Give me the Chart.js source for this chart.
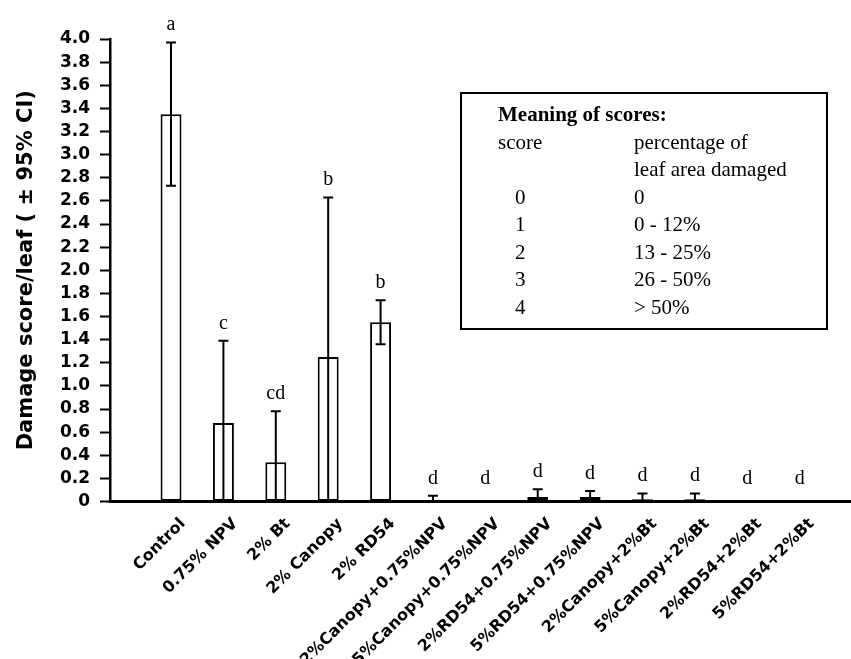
<!DOCTYPE html>
<html>
<head>
<meta charset="utf-8">
<script src="https://cdn.jsdelivr.net/npm/chart.js@4.4.1/dist/chart.umd.min.js"></script>
<style>
  html, body { margin: 0; padding: 0; background: #fff; }
  canvas { display: block; }
</style>
</head>
<body>
<canvas id="damage" width="851" height="659"></canvas>
<script>
// Treatments applied to the leaves
const categories = [
  'Control', '0.75% NPV', '2% Bt', '2% Canopy', '2% RD54',
  '2%Canopy+0.75%NPV', '5%Canopy+0.75%NPV', '2%RD54+0.75%NPV', '5%RD54+0.75%NPV',
  '2%Canopy+2%Bt', '5%Canopy+2%Bt', '2%RD54+2%Bt', '5%RD54+2%Bt'
];

// Mean damage score per leaf and the half-width of its 95% confidence interval
const meanScore = [3.35, 0.68, 0.34, 1.25, 1.55, 0.01, 0, 0.04, 0.04, 0.02, 0.02, 0, 0];
const ci95      = [0.62, 0.71, 0.44, 1.38, 0.19, 0.04, 0, 0.065, 0.05, 0.05, 0.05, 0, 0];

// Significance groups printed above each treatment
const groupLetters = ['a', 'c', 'cd', 'b', 'b', 'd', 'd', 'd', 'd', 'd', 'd', 'd', 'd'];

// Y axis tick values
const yTickValues = [0, 0.2, 0.4, 0.6, 0.8, 1.0, 1.2, 1.4, 1.6, 1.8, 2.0,
                     2.2, 2.4, 2.6, 2.8, 3.0, 3.2, 3.4, 3.6, 3.8, 4.0];

// Key to the scoring scale
const keyTitle = 'Meaning of scores:';
const keyHeader = ['score', 'percentage of', 'leaf area damaged'];
const keyScores = ['0', '1', '2', '3', '4'];
const keyRanges = ['0', '0 - 12%', '13 - 25%', '26 - 50%', '> 50%'];

const SANS = '"DejaVu Sans", sans-serif';
const SERIF = '"Liberation Serif", "Times New Roman", serif';

// Whiskers (clipped at the x axis) and group letters
const errorBars = {
  id: 'errorBars',
  afterDatasetsDraw(chart) {
    const { ctx, chartArea, scales: { x, y } } = chart;
    const cap = 5;
    ctx.save();
    ctx.beginPath();
    ctx.rect(chartArea.left, 0, chartArea.right - chartArea.left, chartArea.bottom);
    ctx.clip();
    ctx.strokeStyle = '#000';
    ctx.lineWidth = 2;
    meanScore.forEach((m, i) => {
      const e = ci95[i];
      if (!e) return;
      const xc = x.getPixelForValue(i);
      const yHi = y.getPixelForValue(m + e);
      const yLo = y.getPixelForValue(m - e);
      ctx.beginPath();
      ctx.moveTo(xc, yHi); ctx.lineTo(xc, yLo);
      ctx.moveTo(xc - cap, yHi); ctx.lineTo(xc + cap, yHi);
      ctx.moveTo(xc - cap, yLo); ctx.lineTo(xc + cap, yLo);
      ctx.stroke();
    });
    ctx.restore();

    ctx.save();
    ctx.fillStyle = '#000';
    ctx.font = '20px ' + SERIF;
    ctx.textAlign = 'center';
    ctx.textBaseline = 'alphabetic';
    groupLetters.forEach((t, i) => {
      const top = Math.max(meanScore[i] + ci95[i], 0.05);
      ctx.fillText(t, x.getPixelForValue(i), y.getPixelForValue(top) - 12);
    });
    ctx.restore();
  }
};

// Boxed key explaining the scores
const scoreKey = {
  id: 'scoreKey',
  afterDraw(chart) {
    const { ctx } = chart;
    const box = { left: 461, top: 93, right: 827, bottom: 329 };
    const col1 = 498, colDigit = 515, col2 = 634;
    const row0 = 121, step = 27.5;
    ctx.save();
    ctx.strokeStyle = '#000';
    ctx.lineWidth = 2;
    ctx.strokeRect(box.left, box.top, box.right - box.left, box.bottom - box.top);
    ctx.fillStyle = '#000';
    ctx.textAlign = 'left';
    ctx.textBaseline = 'alphabetic';
    ctx.font = 'bold 21px ' + SERIF;
    ctx.fillText(keyTitle, col1, row0);
    ctx.font = '21px ' + SERIF;
    ctx.fillText(keyHeader[0], col1, row0 + step);
    ctx.fillText(keyHeader[1], col2, row0 + step);
    ctx.fillText(keyHeader[2], col2, row0 + 2 * step);
    keyScores.forEach((s, i) => {
      const yy = row0 + (3 + i) * step;
      ctx.fillText(s, colDigit, yy);
      ctx.fillText(keyRanges[i], col2, yy);
    });
    ctx.restore();
  }
};

const bars = meanScore.map((v, i) => ({ x: i, y: v }));

new Chart(document.getElementById('damage'), {
  type: 'bar',
  data: {
    datasets: [{
      data: bars,
      backgroundColor: '#fff',
      borderColor: '#000',
      borderWidth: 2,
      borderSkipped: false,
      barPercentage: 0.4,
      categoryPercentage: 1
    }]
  },
  options: {
    responsive: false,
    animation: false,
    devicePixelRatio: 1,
    layout: { padding: { top: 39, left: 0, right: 0, bottom: 0 } },
    plugins: { legend: { display: false }, tooltip: { enabled: false } },
    scales: {
      x: {
        type: 'linear',
        offset: false,
        min: -1.165,
        max: 12.98,
        afterBuildTicks: (s) => { s.ticks = categories.map((_, i) => ({ value: i })); },
        afterFit: (s) => { s.height = 157.5; },
        grid: { display: false, drawTicks: false },
        border: { display: true, color: '#000', width: 3 },
        ticks: {
          autoSkip: false,
          maxRotation: 45,
          minRotation: 45,
          labelOffset: 12,
          padding: 13,
          color: '#000',
          font: { family: SANS, weight: 'bold', size: 16 },
          callback: (v) => categories[v] ?? ''
        }
      },
      y: {
        min: 0,
        max: 4,
        afterBuildTicks: (s) => { s.ticks = yTickValues.map((v) => ({ value: v })); },
        afterFit: (s) => { s.width = 110; },
        grid: {
          drawOnChartArea: false,
          drawTicks: true,
          tickLength: 10,
          tickWidth: 2,
          tickColor: '#000',
          color: '#000'
        },
        border: { display: true, color: '#000', width: 2.5 },
        ticks: {
          autoSkip: false,
          padding: 10,
          color: '#000',
          font: { family: SANS, weight: 'bold', size: 17 },
          callback: (v) => (v === 0 ? '0' : v.toFixed(1))
        },
        title: {
          display: true,
          text: 'Damage score/leaf ( ± 95% CI)',
          color: '#000',
          font: { family: SANS, weight: 'bold', size: 21 },
          padding: { top: 14, bottom: 0 }
        }
      }
    }
  },
  plugins: [errorBars, scoreKey]
});
</script>
</body>
</html>
